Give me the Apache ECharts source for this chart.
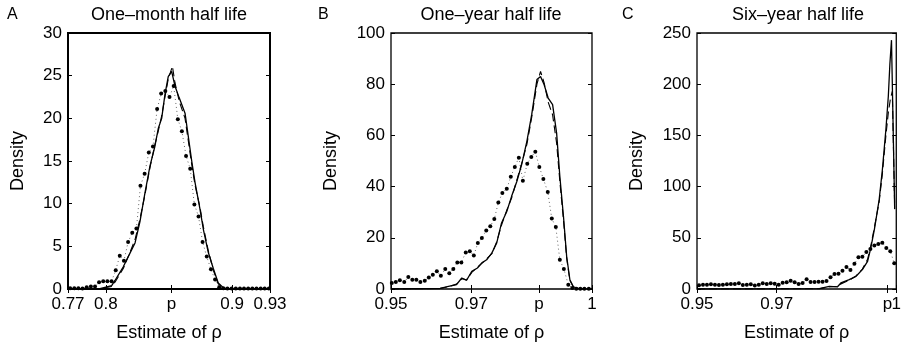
<!DOCTYPE html>
<html>
<head>
<meta charset="utf-8">
<script src="https://cdn.jsdelivr.net/npm/echarts@6/dist/echarts.min.js"></script>
<style>
  html, body { margin: 0; padding: 0; background: #fff; }
  #main { width: 904px; height: 349px; }
</style>
</head>
<body>
<div id="main"></div>
<script>
// ---- data ----
var panelTitles = ['One\u2013month half life', 'One\u2013year half life', 'Six\u2013year half life'];
var panelLetters = ['A', 'B', 'C'];

// tick positions (p = true rho) and their labels
var ticksA = [0.77, 0.8, 0.852, 0.9, 0.93];
var tickLabelsA = ['0.77', '0.8', 'p', '0.9', '0.93'];
var ticksB = [0.95, 0.97, 0.9868, 1];
var tickLabelsB = ['0.95', '0.97', 'p', '1'];
var ticksC = [0.95, 0.97, 0.9978, 1];
var tickLabelsC = ['0.95', '0.97', 'p', '1'];

// panel A: one-month half life
var xA_solid = [0.77, 0.7953, 0.8046, 0.8072, 0.8138, 0.8191, 0.8231, 0.827, 0.8309, 0.8349, 0.8388, 0.8415, 0.8442, 0.8468, 0.8494, 0.8521, 0.8547, 0.8581, 0.8627, 0.868, 0.8706, 0.8745, 0.8772, 0.8811, 0.8851, 0.889, 0.8935, 0.8983, 0.93];
var yA_solid = [0, 0.05, 0.4, 1.0, 2.6, 4.2, 5.4, 7.9, 11.2, 14.4, 16.7, 18.8, 20.0, 22.8, 24.9, 25.5, 23.8, 22.4, 20.6, 15.0, 12.5, 9.4, 7.0, 4.3, 2.4, 0.7, 0.1, 0, 0];
var xA_dash = [0.77, 0.7953, 0.8046, 0.8072, 0.8138, 0.8191, 0.8231, 0.827, 0.8309, 0.8349, 0.8388, 0.8415, 0.8442, 0.8468, 0.8494, 0.8527, 0.8547, 0.8581, 0.8627, 0.868, 0.8706, 0.8745, 0.8772, 0.8811, 0.8851, 0.889, 0.8935, 0.8983, 0.93];
var yA_dash = [0, 0.05, 0.3, 0.8, 2.4, 4.3, 5.8, 8.2, 11.0, 14.2, 16.9, 18.5, 20.3, 22.5, 24.6, 26.1, 24.2, 22.0, 20.0, 14.6, 12.2, 9.6, 7.3, 4.5, 2.2, 0.6, 0.1, 0, 0];
var xA_dots = [0.7717, 0.775, 0.7782, 0.7815, 0.7848, 0.7881, 0.7914, 0.7946, 0.7979, 0.8012,
               0.8045, 0.8078, 0.811, 0.8143, 0.8176, 0.8209, 0.8242, 0.8274, 0.8307, 0.834,
               0.8373, 0.8406, 0.8438, 0.8471, 0.8504, 0.8537, 0.857, 0.8602, 0.8635, 0.8668,
               0.8701, 0.8734, 0.8766, 0.8799, 0.8832, 0.8865, 0.8898, 0.893, 0.8963, 0.8996,
               0.9029, 0.9062, 0.9094, 0.9127, 0.916, 0.9193, 0.9226, 0.9258, 0.9291];
var yA_dots = [0.1, 0.1, 0.1, 0.05, 0.2, 0.3, 0.3, 0.8, 0.9, 0.9,
               0.9, 2.2, 3.9, 3.3, 5.5, 6.6, 7.1, 12.1, 13.5, 16.0,
               16.7, 21.1, 22.9, 23.2, 22.5, 23.8, 19.9, 18.5, 15.6, 14.1,
               9.9, 8.5, 5.5, 3.8, 2.3, 1.1, 0.2, 0.1, 0.05, 0.05,
               0.05, 0.05, 0.05, 0.05, 0.05, 0.05, 0.05, 0.05, 0.05];

// panel B: one-year half life
var xB_solid = [0.95, 0.9622, 0.9643, 0.9663, 0.9676, 0.9688, 0.9701, 0.9715, 0.9726, 0.9738, 0.9751, 0.9763, 0.9775, 0.9788, 0.98, 0.9813, 0.9825, 0.9838, 0.985, 0.9863, 0.9872, 0.9881, 0.9891, 0.9902, 0.9912, 0.992, 0.9929, 0.9937, 0.9945, 0.9954, 0.997, 1.0];
var yB_solid = [0, 0.2, 1.0, 1.7, 4.3, 3.4, 6.9, 8.2, 10.2, 11.4, 14.1, 18.0, 25.8, 30.3, 36.2, 42.0, 48.6, 57.7, 68.1, 81.8, 83.0, 79.8, 74.6, 72.0, 60.9, 44.0, 28.4, 12.7, 3.6, 0.8, 0, 0];
var yB_dash = [0, 0.2, 0.9, 1.9, 4.0, 3.6, 6.5, 8.5, 10.0, 11.8, 13.8, 18.5, 25.0, 30.8, 35.5, 42.5, 49.0, 56.5, 67.0, 80.0, 85.0, 80.5, 73.0, 68.0, 57.0, 42.0, 27.0, 12.0, 3.3, 0.7, 0, 0];
var xB_dots = [0.9502, 0.9512, 0.9522, 0.9533, 0.9543, 0.9553, 0.9563, 0.9573, 0.9584, 0.9594,
               0.9604, 0.9614, 0.9624, 0.9635, 0.9645, 0.9655, 0.9665, 0.9675, 0.9686, 0.9696,
               0.9706, 0.9716, 0.9726, 0.9737, 0.9747, 0.9757, 0.9767, 0.9777, 0.9788, 0.9798,
               0.9808, 0.9818, 0.9828, 0.9839, 0.9849, 0.9859, 0.9869, 0.9879, 0.989, 0.99,
               0.991, 0.992, 0.993, 0.9941, 0.9951, 0.9961, 0.9971, 0.9981, 0.9992];
var yB_dots = [2.3, 2.7, 3.4, 2.7, 4.7, 3.6, 3.6, 2.7, 3.2, 4.5,
               5.6, 6.9, 5.2, 7.8, 6.2, 7.8, 10.4, 10.4, 14.3, 14.7,
               13.1, 18.0, 19.9, 22.9, 24.5, 27.3, 33.8, 37.5, 39.2, 43.8,
               47.7, 51.3, 42.3, 48.9, 51.6, 53.6, 47.7, 43.0, 37.9, 27.5,
               24.2, 11.4, 7.8, 1.7, 0.4, 0.1, 0.1, 0.1, 0.1];

// panel C: six-year half life
var xC_solid = [0.95, 0.9807, 0.9832, 0.9852, 0.9861, 0.9882, 0.9899, 0.9915, 0.9928, 0.9936, 0.9945, 0.9957, 0.9965, 0.9974, 0.998, 0.9984, 0.9988, 0.9996];
var yC_solid = [0, 0.3, 2.6, 2.0, 5.9, 9.1, 12.4, 18.9, 27, 40, 58, 87, 116, 156, 188, 220, 243, 78];
var xC_dash = [0.95, 0.9807, 0.9832, 0.9852, 0.9861, 0.9882, 0.9899, 0.9915, 0.9928, 0.9936, 0.9945, 0.9957, 0.9965, 0.9974, 0.998, 0.9985, 0.999, 0.9996];
var yC_dash = [0, 0.3, 2.2, 2.4, 5.0, 8.5, 12.8, 19.5, 29, 42, 60, 85, 112, 150, 172, 185, 193, 80];
var xC_dots = [0.9505, 0.9515, 0.9525, 0.9535, 0.9545, 0.9555, 0.9565, 0.9575, 0.9585, 0.9595,
               0.9605, 0.9615, 0.9625, 0.9635, 0.9645, 0.9655, 0.9665, 0.9675, 0.9685, 0.9695,
               0.9705, 0.9715, 0.9725, 0.9735, 0.9745, 0.9755, 0.9765, 0.9775, 0.9785, 0.9795,
               0.9805, 0.9815, 0.9825, 0.9835, 0.9845, 0.9855, 0.9865, 0.9875, 0.9885, 0.9895,
               0.9905, 0.9915, 0.9925, 0.9935, 0.9945, 0.9955, 0.9965, 0.9975, 0.9985, 0.9995];
var yC_dots = [3.6, 4.2, 4.2, 4.6, 4.2, 3.9, 4.2, 4.6, 4.9, 4.9,
               5.5, 3.9, 4.2, 4.6, 3.3, 4.2, 5.5, 4.9, 5.5, 5.2,
               4.2, 6.2, 6.5, 8.1, 6.5, 4.9, 5.9, 9.4, 6.8, 6.8,
               7.2, 7.2, 7.8, 11.4, 14.6, 15.0, 17.9, 21.5, 18.6, 24.7,
               30.9, 31.6, 36.1, 39.0, 42.6, 43.9, 45.2, 40.0, 36.8, 25.1];

// ---- chart ----
var chartDom = document.getElementById('main');
var myChart = echarts.init(chartDom);
var FONT = '"Liberation Sans", Arial, Helvetica, sans-serif';

function pairs(xs, ys) {
  var out = [];
  for (var i = 0; i < xs.length; i++) out.push([xs[i], ys[i]]);
  return out;
}

function labelFormatter(vals, labs) {
  return function (v) {
    for (var i = 0; i < vals.length; i++) if (Math.abs(vals[i] - v) < 1e-6) return labs[i];
    return '';
  };
}

var panels = [
  { left: 68, width: 202, border: 2, xmin: 0.77, xmax: 0.93, ymax: 30, step: 5,
    ticks: ticksA, labels: tickLabelsA, split: false, nameGap: 41, title: 169, letter: 7,
    solid: pairs(xA_solid, yA_solid), dash: pairs(xA_dash, yA_dash), dots: pairs(xA_dots, yA_dots) },
  { left: 391, width: 201, border: 1.3, xmin: 0.95, xmax: 1, ymax: 100, step: 20,
    ticks: ticksB, labels: tickLabelsB, split: false, nameGap: 51, title: 491, letter: 318,
    solid: pairs(xB_solid, yB_solid), dash: pairs(xB_solid, yB_dash), dots: pairs(xB_dots, yB_dots) },
  // "p" and "1" sit almost on top of each other here, so the last label goes on its own axis
  { left: 697, width: 200, border: 1.3, xmin: 0.95, xmax: 1, ymax: 250, step: 50,
    ticks: ticksC, labels: tickLabelsC, split: true, nameGap: 51, title: 798, letter: 622,
    solid: pairs(xC_solid, yC_solid), dash: pairs(xC_dash, yC_dash), dots: pairs(xC_dots, yC_dots) }
];

var grid = [], xAxis = [], yAxis = [], series = [], graphic = [];
var labelStyle = { fontFamily: FONT, fontSize: 17, color: '#000' };

panels.forEach(function (p, k) {
  grid.push({
    left: p.left, top: 33, width: p.width, height: 256,
    show: true, borderColor: '#000', borderWidth: p.border, backgroundColor: '#fff'
  });
  var fmt = labelFormatter(p.ticks, p.labels);
  var labelVals = p.split ? p.ticks.slice(0, -1) : p.ticks;
  var xi = xAxis.length;
  // bottom x axis
  xAxis.push({
    type: 'value', gridIndex: k, min: p.xmin, max: p.xmax, position: 'bottom',
    name: 'Estimate of \u03c1', nameLocation: 'middle', nameGap: 35,
    nameTextStyle: { fontFamily: FONT, fontSize: 18, color: '#000' },
    axisLine: { show: false },
    axisTick: { show: true, inside: true, length: 4, customValues: p.ticks, lineStyle: { color: '#000' } },
    axisLabel: Object.assign({ customValues: labelVals, formatter: fmt, margin: 7,
                 showMinLabel: true, showMaxLabel: true, hideOverlap: false }, labelStyle),
    splitLine: { show: false }
  });
  // top x axis (ticks only)
  xAxis.push({
    type: 'value', gridIndex: k, min: p.xmin, max: p.xmax, position: 'top',
    axisLine: { show: false },
    axisTick: { show: true, inside: true, length: 4, customValues: p.ticks, lineStyle: { color: '#000' } },
    axisLabel: { show: false },
    splitLine: { show: false }
  });
  if (p.split) {
    xAxis.push({
      type: 'value', gridIndex: k, min: p.xmin, max: p.xmax, position: 'bottom',
      axisLine: { show: false }, axisTick: { show: false }, splitLine: { show: false },
      axisLabel: Object.assign({ customValues: p.ticks.slice(-1), formatter: fmt, margin: 7,
                   showMinLabel: true, showMaxLabel: true }, labelStyle)
    });
  }
  // left y axis
  yAxis.push({
    type: 'value', gridIndex: k, min: 0, max: p.ymax, interval: p.step, position: 'left',
    name: 'Density', nameLocation: 'middle', nameGap: p.nameGap,
    nameTextStyle: { fontFamily: FONT, fontSize: 18, color: '#000' },
    axisLine: { show: false },
    axisTick: { show: true, inside: true, length: 4, lineStyle: { color: '#000' } },
    axisLabel: Object.assign({ margin: 6, showMinLabel: true, showMaxLabel: true }, labelStyle),
    splitLine: { show: false }
  });
  var yi = yAxis.length - 1;
  // right y axis (ticks only)
  yAxis.push({
    type: 'value', gridIndex: k, min: 0, max: p.ymax, interval: p.step, position: 'right',
    axisLine: { show: false },
    axisTick: { show: true, inside: true, length: 4, lineStyle: { color: '#000' } },
    axisLabel: { show: false },
    splitLine: { show: false }
  });

  series.push({
    type: 'line', xAxisIndex: xi, yAxisIndex: yi, data: p.dots,
    symbol: 'circle', symbolSize: 4, showAllSymbol: true,
    itemStyle: { color: '#000' },
    lineStyle: { color: '#666', width: 1, type: [1, 3] },
    z: 2
  });
  series.push({
    type: 'line', xAxisIndex: xi, yAxisIndex: yi, data: p.dash,
    symbol: 'none', lineStyle: { color: '#000', width: 1.1, type: [8, 4] }, z: 3
  });
  series.push({
    type: 'line', xAxisIndex: xi, yAxisIndex: yi, data: p.solid,
    symbol: 'none', lineStyle: { color: '#000', width: 1.3 }, z: 4
  });

  graphic.push({
    type: 'text', left: p.letter, top: 7,
    style: { text: panelLetters[k], font: '16px ' + FONT, fill: '#000' }
  });
  graphic.push({
    type: 'text', x: p.title, y: 15,
    style: { text: panelTitles[k], font: '18px ' + FONT, fill: '#000', align: 'center', verticalAlign: 'middle' }
  });
});

var option = {
  animation: false,
  backgroundColor: '#fff',
  grid: grid,
  xAxis: xAxis,
  yAxis: yAxis,
  series: series,
  graphic: graphic
};

option && myChart.setOption(option);
window.addEventListener('resize', function () {
  myChart.resize();
});
</script>
</body>
</html>
